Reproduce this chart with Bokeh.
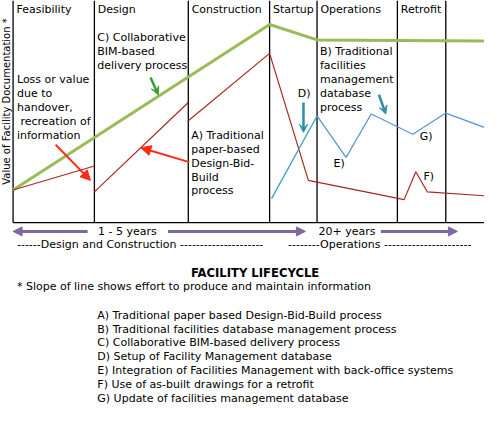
from bokeh.plotting import figure
from bokeh.models import Range1d, Arrow, NormalHead, VeeHead
from bokeh.core.properties import value
from bokeh.embed import file_html
from bokeh.resources import INLINE

# ---------------- data ----------------
phase_names = ["Feasibility", "Design", "Construction", "Startup", "Operations", "Retrofit", ""]
phase_start = [13, 97, 194, 278, 327, 410, 460]
time_end = 500
value_top = 231

# C) Collaborative BIM-based delivery process
c_x = [13, 278, 327, 500]
c_y = [34, 206, 190, 189]
# A) Traditional paper-based Design-Bid-Build (three segments)
a1_x = [13, 97]
a1_y = [34, 59]
a2_x = [97, 194]
a2_y = [32, 125]
a3_x = [194, 278, 318, 417, 429, 441, 500]
a3_y = [106, 176, 44, 24, 53, 32, 28]
# D) Setup of FM database
d_x = [280, 327]
d_y = [25, 111]
# B) Traditional facilities management database process
b_x = [327, 357, 383, 426, 460, 500]
b_y = [111, 68, 113, 92, 114, 99]

legend_lines = [
    "A) Traditional paper based Design-Bid-Build process",
    "B) Traditional facilities database management process",
    "C) Collaborative BIM-based delivery process",
    "D) Setup of Facility Management database",
    "E) Integration of Facilities Management with back-office systems",
    "F) Use of as-built drawings for a retrofit",
    "G) Update of facilities management database",
]

FONT = value("DejaVu Sans")
FS = value("11px")

GREEN = "#9BBB59"
RED = "#A8281E"
BLUE = "#5E95D2"
TEAL = "#35A3BC"
TEAL_ARROW = "#2B8FA5"
RED_ARROW = "#FF2B14"
GREEN_ARROW = "#35A035"
PURPLE = "#7D68A0"

p = figure(width=484, height=405, x_range=Range1d(0, 500), y_range=Range1d(-190, 231),
           output_backend="svg", toolbar_location=None, min_border=0)
p.axis.visible = False
p.grid.visible = False
p.outline_line_color = None
p.background_fill_color = "white"

# frame / phase dividers
p.segment(x0=phase_start, y0=[0] * len(phase_start), x1=phase_start,
          y1=[value_top] * len(phase_start), line_color="black", line_width=1.3)
p.segment(x0=[phase_start[0]], y0=[0], x1=[time_end], y1=[0], line_color="black", line_width=1.3)

# series
p.line(c_x, c_y, line_color=GREEN, line_width=3)
p.line(a1_x, a1_y, line_color=RED, line_width=1.2)
p.line(a2_x, a2_y, line_color=RED, line_width=1.2)
p.line(a3_x, a3_y, line_color=RED, line_width=1.2)
p.line(d_x, d_y, line_color=TEAL, line_width=1.3)
p.line(b_x, b_y, line_color=BLUE, line_width=1.3)

# phase titles
p.text(x=[s + 3.5 for s in phase_start], y=[222] * len(phase_start), text=phase_names,
       text_font=FONT, text_font_size=FS, text_baseline="middle", text_align="left", text_color="black")

def block(x, y0, lines, step=14.7):
    p.text(x=[x] * len(lines), y=[y0 - i * step for i in range(len(lines))], text=lines,
           text_font=FONT, text_font_size=FS, text_baseline="middle", text_align="left",
           text_color="black")

block(100, 193, ["C) Collaborative", "BIM-based", "delivery process"])
block(17, 149, ["Loss or value", "due to", "handover,", "\u00a0recreation of", "information"], step=14.5)
block(197, 91, ["A) Traditional", "paper-based", "Design-Bid-", "Build", "process"], step=14.5)
block(330, 178, ["B) Traditional", "facilities", "management", "database", "process"], step=14.5)
block(307, 134, ["D)"])
block(344, 62, ["E)"])
block(433, 90, ["G)"])
block(437, 48, ["F)"])

# y label
p.text(x=[6], y=[126], text=["Value of Facility Documentation *"], angle=1.5708,
       text_font=FONT, text_font_size=value("10px"), text_baseline="middle", text_align="center",
       text_color="black")

# annotation arrows
def arrow(x0, y0, x1, y1, color, width, head):
    p.add_layout(Arrow(end=head, x_start=x0, y_start=y0, x_end=x1, y_end=y1,
                       line_color=color, line_width=width))

arrow(57, 81, 93, 44, RED_ARROW, 2, NormalHead(size=10, fill_color=RED_ARROW, line_color=RED_ARROW))
arrow(195, 63, 145, 78, RED_ARROW, 2, NormalHead(size=10, fill_color=RED_ARROW, line_color=RED_ARROW))
arrow(155, 151, 163, 133, GREEN_ARROW, 2.5, VeeHead(size=8, fill_color=GREEN_ARROW, line_color=GREEN_ARROW))
arrow(313, 125, 313, 94, TEAL_ARROW, 2.5, VeeHead(size=8, fill_color=TEAL_ARROW, line_color=TEAL_ARROW))
arrow(391, 133, 398, 113, TEAL_ARROW, 2.5, VeeHead(size=8, fill_color=TEAL_ARROW, line_color=TEAL_ARROW))

# time arrows
arrow(90, -9, 13, -9, PURPLE, 3, NormalHead(size=9, fill_color=PURPLE, line_color=PURPLE))
arrow(173, -9, 315, -9, PURPLE, 3, NormalHead(size=9, fill_color=PURPLE, line_color=PURPLE))
arrow(393, -9, 472, -9, PURPLE, 3, NormalHead(size=9, fill_color=PURPLE, line_color=PURPLE))

p.text(x=[131, 358], y=[-9, -9], text=["1 - 5 years", "20+ years"], text_font=FONT, text_font_size=FS,
       text_baseline="middle", text_align="center", text_color="black")
p.text(x=[17, 297], y=[-23, -23],
       text=["------Design and Construction ---------------------",
             "--------Operations ----------------------"],
       text_font=FONT, text_font_size=FS, text_baseline="middle", text_align="left", text_color="black")

p.text(x=[263], y=[-52], text=["FACILITY LIFECYCLE"], text_font=FONT, text_font_size=value("11.6px"),
       text_font_style="bold", text_baseline="middle", text_align="center", text_color="black")
p.text(x=[17], y=[-66], text=["* Slope of line shows effort to produce and maintain information"],
       text_font=FONT, text_font_size=FS, text_baseline="middle", text_align="left", text_color="black")
p.text(x=[100] * len(legend_lines), y=[-96 - i * 14.5 for i in range(len(legend_lines))],
       text=legend_lines, text_font=FONT, text_font_size=FS, text_baseline="middle",
       text_align="left", text_color="black")

open("out.html", "w").write(file_html(p, INLINE))
